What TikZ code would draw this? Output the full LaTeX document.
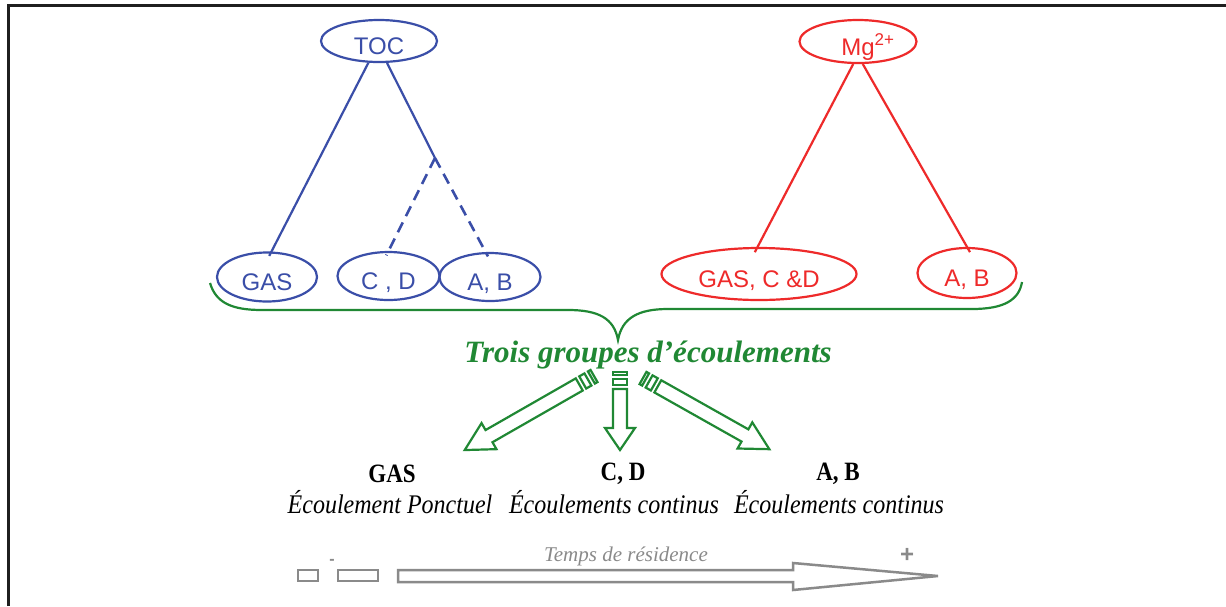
\documentclass[tikz,border=0pt]{standalone}
\usepackage{fontspec}
\setmainfont{Liberation Serif}
\newfontfamily\arialf{Liberation Sans}
\usetikzlibrary{shapes.geometric}
\definecolor{bluec}{RGB}{58,78,168}
\definecolor{redc}{RGB}{238,42,42}
\definecolor{greenc}{RGB}{32,136,52}
\definecolor{grayc}{RGB}{138,138,138}
\newcommand\sarrowpath[4]{%
  \draw (0,-#2) rectangle (3,#2);
  \draw (7,-#2) rectangle (13,#2);
  \draw (17,-#2) -- ({#1-#4},-#2) -- ({#1-#4},-#3) -- (#1,0) -- ({#1-#4},#3) -- ({#1-#4},#2) -- (17,#2) -- cycle;}
\begin{document}
\begin{tikzpicture}[x=1pt,y=-1pt,
  ell/.style={ellipse, draw, line width=2.2pt, inner sep=0pt, text height=27pt, text depth=0pt,
    font=\arialf\fontsize{24}{24}\selectfont},
  bl/.style={ell, draw=bluec, text=bluec},
  rd/.style={ell, draw=redc, text=redc},
  bline/.style={draw=bluec, line width=2.2pt, shorten >=-5pt},
  rline/.style={draw=redc, line width=2.2pt, shorten >=-6pt},
  dline/.style={bline, line width=2.6pt, dash pattern=on 11pt off 7pt},
  garr/.style={draw=greenc, line width=2.2pt, line join=miter},
  boldlab/.style={font=\bfseries\fontsize{23}{23}\selectfont, yscale=1.15, transform shape},
  itlab/.style={font=\itshape\fontsize{24}{24}\selectfont, yscale=1.12, transform shape},
]
\useasboundingbox (0,0) rectangle (1226,606);
\fill[white] (0,0) rectangle (1226,606);
\draw[line width=3pt, black!88] (8,606) -- (8,5) -- (1226,5);

% blue tree
\node[bl, minimum width=116pt, minimum height=42pt] (toc) at (379,41) {TOC};
\node[bl, minimum width=100pt, minimum height=49pt] (gas1) at (267,277) {GAS};
\node[bl, minimum width=102pt, minimum height=48pt] (cd1) at (388.5,276) {C , D};
\node[bl, minimum width=101pt, minimum height=48pt] (ab1) at (490,277) {A, B};
\coordinate (jn) at (435,158);
\draw[bline] (toc.244) -- (gas1.80);
\draw[bline, shorten >=0pt] (toc.290) -- (jn);
\draw[dline] (jn) -- (cd1.north);
\draw[dline] (jn) -- (ab1.100);

% red tree
\node[rd, minimum width=117pt, minimum height=43pt] (mg) at (858,41.5) {\hspace*{20pt}Mg\textsuperscript{\fontsize{17}{17}\selectfont 2+}};
\node[rd, minimum width=195pt, minimum height=52pt] (gcd2) at (759,274) {GAS, C \&D};
\node[rd, minimum width=99pt, minimum height=50pt] (ab2) at (967,273) {A, B};
\draw[rline] (mg.258) -- (gcd2.93);
\draw[rline] (mg.282) -- (ab2.north);

% brace
\draw[greenc, line width=2.2pt] (210,283) .. controls (216,303) and (232,310) .. (262,310)
  -- (568,310) .. controls (598,310) and (614,318) .. (618,340)
  .. controls (622,318) and (638,309) .. (668,309)
  -- (972,309) .. controls (1004,309) and (1019,300) .. (1022,282);

\node[font=\bfseries\itshape\fontsize{31}{31}\selectfont, text=greenc] (trois) at (648,355) {Trois groupes d’écoulements};

% green striped arrows
\begin{scope}[garr, shift={(594,376)}, rotate=209.8]
  \sarrowpath{149}{7}{15}{28}
\end{scope}
\begin{scope}[garr, shift={(620,372)}, rotate=-90]
  \sarrowpath{78}{7}{15}{22}
\end{scope}
\begin{scope}[garr, shift={(643,378)}, rotate=-29.4]
  \sarrowpath{145}{7}{15}{28}
\end{scope}

% labels
\node[boldlab] (lgas) at (392,474) {GAS};
\node[boldlab] (lcd) at (623,474) {C, D};
\node[boldlab] (lab) at (838,474) {A, B};
\node[itlab] (tgas) at (390,502) {Écoulement Ponctuel};
\node[itlab] (tcd) at (614,502) {Écoulements continus};
\node[itlab] (tab) at (839,502) {Écoulements continus};

% time axis
\draw[grayc, line width=2.5pt, line join=miter] (298,570) rectangle (318,581);
\draw[grayc, line width=2.5pt, line join=miter] (338,570) rectangle (378,581);
\draw[grayc, line width=2.5pt, line join=miter] (398,570) -- (793,570) -- (793,563) -- (938,576)
  -- (793,590) -- (793,582) -- (398,582) -- cycle;
\node[font=\itshape\fontsize{21}{21}\selectfont, text=grayc] (temps) at (626,556) {Temps de résidence};
\node[font=\arialf\bfseries\fontsize{16}{16}\selectfont, text=grayc] (minus) at (332,562) {-};
\node[font=\arialf\bfseries\fontsize{24}{24}\selectfont, text=grayc] (plus) at (907,555) {+};
\end{tikzpicture}
\end{document}
